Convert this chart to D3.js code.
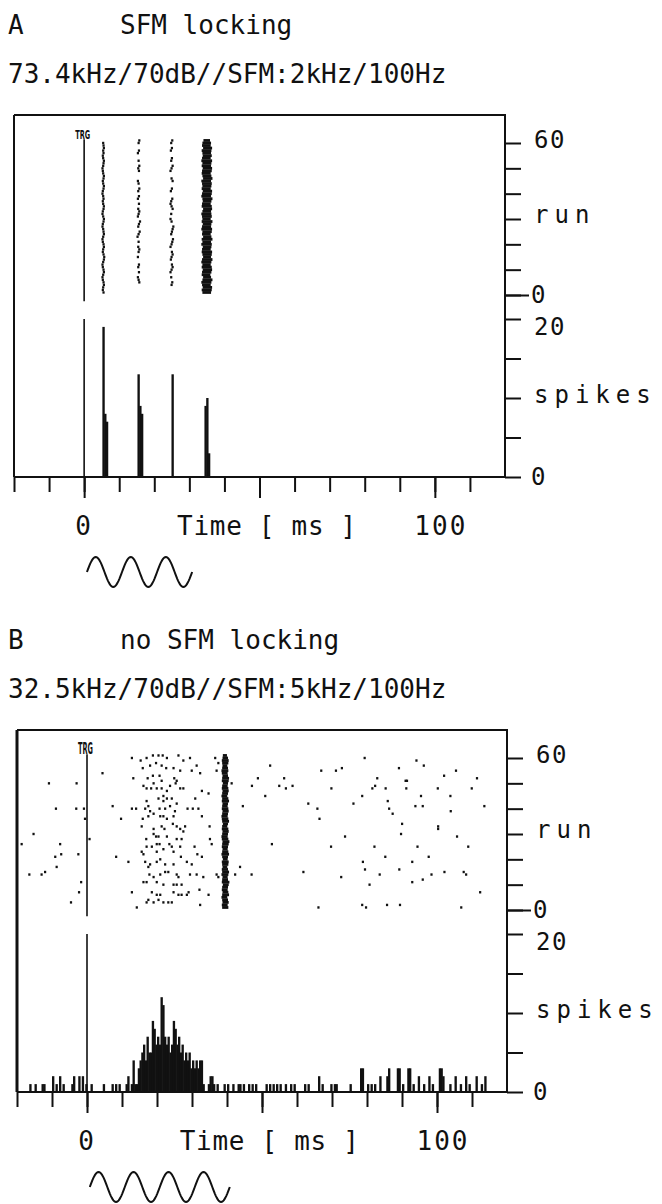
<!DOCTYPE html>
<html>
<head>
<meta charset="utf-8">
<script src="https://cdn.jsdelivr.net/npm/d3@7"></script>
<style>
  html, body { margin: 0; padding: 0; background: #fff; }
  svg { display: block; }
  text { font-family: "DejaVu Sans Mono", monospace; fill: #111; }
</style>
</head>
<body>
<div id="chart"></div>
<script>
// ---------- data ----------
const panelLetters = ["A", "B"];
const panelTitles = ["SFM locking", "no SFM locking"];
const panelStimuli = ["73.4kHz/70dB//SFM:2kHz/100Hz", "32.5kHz/70dB//SFM:5kHz/100Hz"];
const sfmCycles = [3, 4];
const sfmPeriod = 10; // ms, 100 Hz modulation

const timeTicks = [-20, -10, 0, 10, 20, 30, 40, 50, 60, 70, 80, 90, 100, 110];
const timeMajorTicks = [0, 50, 100];
const runTicks = [0, 10, 20, 30, 40, 50, 60];
const spikeTicks = [0, 5, 10, 15, 20];
const runLabels = [[60, "60"], [30, "run"], [0, "0"]];
const spikeLabels = [[20, "20"], [10, "spikes"], [0, "0"]];
const timeLabels = [[0, "0"], [100, "100"]];
const trgCount = 20;
const binWidth = 0.5;

// Panel A raster, spike time (ms) per run; index 0 = run 1, null = no spike
const rasterA1 = [5.5, 5.3, 5.4, 5.6, 5.5, 5.3, 5.2, 5.4, 5.6, 5.5,
  5.3, 5.2, 5.4, 5.6, 5.7, 5.5, 5.3, 5.4, 5.6, 5.5,
  5.3, 5.2, 5.4, 5.6, 5.5, 5.4, 5.2, 5.3, 5.5, 5.6,
  5.4, 5.2, 5.3, 5.5, 5.6, 5.4, 5.3, 5.5, 5.4, 5.2,
  5.3, 5.5, 5.6, 5.4, 5.3, 5.5, 5.6, 5.4, 5.3, 5.2,
  5.4, 5.5, 5.6, 5.4, 5.3, 5.5, 5.4, 5.6, 5.5, 5.4];
const rasterA2 = [null, null, null, null, 15.7, 15.5, 15.3, null, 15.6, null,
  15.4, 15.6, null, null, 15.3, null, 15.5, 15.7, 15.4, null,
  15.5, null, 15.2, 15.5, 15.8, null, 15.4, 15.6, 15.9, null,
  15.3, 15.5, 15.7, 15.4, null, 15.6, null, 15.3, 15.6, null,
  15.4, 15.7, null, 15.5, 15.3, null, null, null, 15.6, 15.4,
  15.7, null, 15.5, null, null, 15.3, 15.6, null, null, 15.5, 15.7];
const rasterA3 = [null, null, null, 24.9, 25.1, null, 24.8, null, 24.6, 24.9,
  25.2, 25.0, null, 24.7, 24.9, 25.2, 25.0, null, 24.6, 24.9,
  25.1, 25.3, null, 24.8, 25.0, 25.2, 25.4, null, 24.9, 24.6,
  null, 24.8, null, 25.2, 24.9, 24.6, 24.8, 25.1, null, null,
  24.7, 25.0, null, null, 25.2, 24.9, null, null, 24.6, 24.9,
  25.2, null, 24.8, 25.0, null, null, 24.7, 25.0, null, 24.8, 25.1];
// dense burst column: first and last spike time per run
const burstStartA = [34.0, 33.8, 34.1, 33.9, 33.7, 34.0, 34.2, 33.8, 33.9, 34.1,
  33.8, 34.0, 33.7, 33.9, 34.2, 34.0, 33.8, 33.9, 34.1, 33.7,
  34.0, 33.8, 34.2, 33.9, 34.0, 33.7, 33.9, 34.1, 33.8, 34.0,
  33.9, 33.7, 34.0, 34.2, 33.8, 33.9, 34.1, 34.0, 33.7, 33.9,
  34.1, 33.8, 34.0, 33.9, 33.7, 34.2, 34.0, 33.8, 33.9, 34.1,
  33.8, 34.0, 33.7, 33.9, 34.1, 34.0, 33.8, 34.2, 33.9, 34.0, 34.3];
const burstEndA = [35.9, 36.1, 36.2, 35.8, 36.0, 36.3, 35.9, 35.7, 36.0, 36.2,
  36.1, 35.8, 36.0, 36.3, 35.9, 36.1, 36.2, 35.8, 36.0, 36.1,
  35.9, 36.3, 36.0, 35.8, 36.1, 36.2, 35.9, 36.0, 36.3, 35.8,
  36.1, 36.0, 35.9, 36.2, 36.1, 35.8, 36.0, 36.3, 35.9, 36.1,
  36.2, 35.8, 36.0, 36.1, 35.9, 36.3, 36.0, 35.8, 36.1, 36.2,
  35.9, 36.0, 36.2, 35.8, 36.1, 35.9, 36.0, 36.2, 35.8, 35.9, 35.6];

// Panel A PSTH: [bin start ms, spike count]
const histA = [[5.2, 19], [5.7, 8], [6.2, 7], [15.2, 13], [15.7, 9], [16.2, 8],
  [24.9, 13], [34.3, 9], [34.8, 10], [35.3, 3]];

// Panel B raster: [time ms, run]
const rasterB = [
  [-10.9, 50], [-3.0, 50], [-8.9, 40], [-3.1, 40], [-0.9, 40], [-0.6, 36], [-15.3, 30],
  [-18.7, 26], [-7.7, 26], [-9.1, 21], [-7.4, 22], [-2.5, 22], [-8.7, 17], [-16.5, 14],
  [-13.0, 14], [-12.0, 15], [-1.7, 11], [-2.3, 7], [-4.6, 3], [0.7, 28],
  [4.4, 54], [7.3, 41], [9.7, 36], [8.3, 21], [11.8, 19], [12.8, 7], [14.2, 1],
  [12.8, 60], [15.3, 59], [17.0, 60], [18.8, 61], [20.4, 61], [21.6, 61], [22.8, 60],
  [26.1, 61], [27.5, 59], [29.4, 60], [36.6, 60], [37.5, 58],
  [15.9, 56], [18.0, 57], [19.7, 58], [21.3, 57], [22.6, 56], [24.7, 56], [26.6, 55],
  [29.9, 55], [31.3, 57], [37.0, 55],
  [13.2, 52], [17.3, 52], [18.8, 53], [20.7, 53], [21.3, 51], [24.9, 52], [25.6, 51],
  [19.0, 50], [32.3, 54], [25.3, 50],
  [16.1, 49], [17.0, 48], [18.3, 48], [19.9, 48], [21.3, 48], [22.8, 47], [23.7, 49],
  [26.6, 48], [27.5, 48], [32.8, 47], [34.7, 46],
  [17.0, 43], [20.4, 44], [21.8, 45], [22.8, 44], [24.2, 44], [25.6, 42], [21.8, 43], [30.9, 44],
  [12.8, 40], [14.0, 40], [16.6, 40], [17.5, 41], [18.0, 39], [20.7, 40], [22.3, 40],
  [23.7, 41], [25.1, 39], [28.7, 40], [30.2, 40], [31.8, 40],
  [15.9, 36], [17.5, 37], [19.0, 38], [20.9, 37], [21.8, 37], [22.8, 36], [24.7, 37], [32.8, 37],
  [15.6, 33], [21.3, 33], [22.1, 32], [24.5, 34], [25.6, 33], [26.6, 32], [28.0, 33],
  [19.0, 32], [27.5, 31], [35.0, 33],
  [16.9, 28], [19.0, 30], [19.7, 29], [20.4, 29], [22.8, 29], [25.6, 28], [27.0, 28],
  [19.9, 26], [35.1, 28], [35.6, 26],
  [17.0, 25], [18.5, 25], [20.7, 26], [23.5, 26], [24.2, 25], [26.6, 25], [30.7, 25],
  [15.6, 23], [16.1, 22], [19.9, 23], [21.8, 24], [24.7, 23], [26.8, 21], [31.5, 22], [32.8, 21],
  [16.6, 19], [18.0, 18], [19.9, 19], [20.9, 20], [22.3, 18], [24.7, 18], [28.5, 19],
  [29.9, 18], [17.5, 17],
  [17.8, 14], [19.0, 13], [20.9, 14], [22.3, 15], [23.2, 15], [25.6, 14], [26.1, 13],
  [29.4, 14], [31.3, 14], [33.2, 13], [37.0, 14], [37.5, 13], [16.1, 11],
  [17.0, 11], [19.9, 11], [21.8, 10], [24.7, 10], [25.6, 10], [27.0, 10], [29.0, 7], [32.1, 8],
  [18.5, 7], [19.9, 6], [20.9, 6], [24.7, 7], [26.1, 6], [27.0, 6], [28.5, 6], [34.7, 6],
  [17.5, 4], [19.0, 3], [20.4, 4], [21.8, 3], [23.2, 3], [24.2, 3], [32.3, 2], [17.0, 3],
  [41.3, 50], [42.3, 14],
  [44.5, 41], [47.1, 49], [48.8, 52], [50.9, 45], [52.3, 57], [54.9, 49], [56.3, 52],
  [56.8, 48], [58.7, 49], [52.8, 26], [43.7, 17], [47.0, 14], [61.8, 15], [66.9, 55],
  [63.2, 42], [65.8, 40], [66.4, 36], [66.1, 1], [69.8, 48], [71.1, 55], [72.8, 56],
  [69.7, 25], [73.7, 29], [72.6, 13], [76.1, 42], [78.6, 45], [79.3, 60], [78.8, 19],
  [79.4, 16], [80.7, 10], [78.6, 2], [79.7, 1], [81.5, 48], [82.3, 49], [82.9, 52],
  [82.1, 25], [85.3, 48], [85.9, 43], [86.3, 40], [87.3, 38], [85.2, 21], [83.6, 14],
  [85.7, 2], [89.1, 56], [91.0, 51], [91.4, 51], [91.2, 48], [90.0, 34], [89.7, 30],
  [89.2, 16], [89.4, 2], [92.9, 19], [92.9, 11], [93.8, 41], [94.1, 59], [95.4, 45],
  [95.9, 41], [96.2, 57], [94.4, 25], [95.9, 12], [97.6, 21], [98.4, 14], [100.2, 48],
  [100.3, 33], [100.3, 32], [102.0, 53], [102.1, 15], [103.8, 45], [103.9, 39],
  [105.4, 55], [105.7, 29], [108.9, 25], [107.6, 15], [108.3, 14], [106.9, 1],
  [109.9, 48], [111.4, 52], [112.3, 7], [113.5, 41]
];
const burstStartB = [38.9, 38.8, 39.0, 38.9, 38.7, 38.9, 39.0, 38.8, 38.9, 39.1,
  38.8, 38.9, 39.0, 38.7, 38.9, 38.8, 39.0, 38.9, 38.8, 39.1,
  38.9, 38.7, 38.9, 39.0, 38.8, 38.9, 39.0, 38.8, 38.7, 38.9,
  39.0, 38.8, 38.9, 39.1, 38.9, 38.8, 38.7, 38.9, 39.0, 38.8,
  38.9, 39.0, 38.8, 38.9, 38.7, 38.9, 39.0, 38.8, 38.9, 39.1,
  38.8, 38.9, 39.0, 38.8, 38.7, 38.9, 39.0, 38.9, 38.8, 39.0, 39.1];
const burstEndB = [40.1, 39.9, 40.2, 40.0, 39.8, 40.3, 40.1, 39.9, 40.0, 40.2,
  40.4, 40.0, 39.9, 40.1, 40.3, 40.0, 39.8, 40.1, 40.2, 39.9,
  40.0, 40.3, 40.1, 39.9, 40.0, 40.2, 40.4, 40.1, 39.9, 40.0,
  40.2, 40.1, 39.8, 40.0, 40.3, 40.1, 39.9, 40.0, 40.2, 40.1,
  39.9, 40.0, 40.3, 40.1, 39.8, 40.0, 40.2, 40.1, 39.9, 40.0,
  40.2, 40.3, 40.0, 39.9, 40.1, 40.0, 39.8, 40.1, 40.2, 40.0, 39.7];

// Panel B PSTH: [bin start ms, spike count]
const histB = [
  [-16.5, 1], [-15.0, 1], [-13.0, 1], [-12.5, 1], [-10.0, 2], [-9.0, 1], [-8.0, 2], [-7.0, 1],
  [-4.5, 1], [-4.0, 2], [-2.5, 2], [-1.5, 2], [-0.5, 1],
  [1.0, 1], [4.5, 1], [7.0, 1], [8.0, 1], [9.0, 1], [11.0, 1], [11.5, 2], [12.5, 1],
  [13.0, 4], [13.5, 1], [14.0, 1], [14.5, 3], [15.0, 4], [15.5, 5], [16.0, 6], [16.5, 4],
  [17.0, 7], [17.5, 5], [18.0, 5], [18.5, 9], [19.0, 8], [19.5, 6], [20.0, 7], [20.5, 6],
  [21.0, 12], [21.5, 11], [22.0, 7], [22.5, 6], [23.0, 7], [23.5, 5], [24.0, 6], [24.5, 9],
  [25.0, 8], [25.5, 6], [26.0, 7], [26.5, 5], [27.0, 6], [27.5, 4], [28.0, 5], [28.5, 4],
  [29.0, 5], [29.5, 3], [30.0, 4], [30.5, 3], [31.0, 4], [31.5, 3], [32.0, 4], [32.5, 4], [33.0, 1],
  [34.5, 1], [35.0, 2], [35.5, 2], [36.0, 1], [37.0, 1], [39.0, 1], [40.0, 1], [41.5, 1],
  [43.0, 1], [43.5, 1], [44.5, 1], [46.0, 1], [47.0, 1], [48.0, 1], [51.0, 1], [52.0, 1],
  [53.0, 1], [54.0, 1], [55.0, 1], [56.5, 1], [58.0, 1], [59.0, 1], [62.0, 1], [63.0, 1],
  [66.0, 2], [67.0, 1], [69.5, 1], [70.5, 1], [71.0, 1], [75.0, 1], [78.0, 3], [78.5, 3],
  [80.0, 1], [81.0, 1], [82.0, 1], [83.5, 2], [85.5, 2], [86.0, 3], [88.5, 3], [89.0, 3],
  [90.0, 1], [91.5, 3], [92.0, 3], [93.0, 1], [94.5, 2], [96.0, 1], [97.5, 2], [98.5, 1],
  [100.5, 3], [101.0, 3], [101.5, 2], [103.5, 1], [105.0, 2], [106.5, 1], [108.0, 2],
  [109.0, 1], [111.0, 2], [112.5, 1], [113.5, 2]
];

// ---------- layout ----------
const width = 662, height = 1204;
const panelLayout = [
  {top: 115, left: 14, right: 505, leftStroke: 2},
  {top: 730, left: 17, right: 507, leftStroke: 3}
];

const svg = d3.select("#chart").append("svg")
  .attr("width", width)
  .attr("height", height);

function toRuns(times) {
  const out = [];
  times.forEach((t, i) => { if (t !== null) out.push([t, i + 1]); });
  return out;
}
function toBursts(starts, ends) {
  return starts.map((s, i) => [s, ends[i], i + 1]);
}

const panelData = [
  {spikes: [...toRuns(rasterA1), ...toRuns(rasterA2), ...toRuns(rasterA3)],
   bursts: toBursts(burstStartA, burstEndA), hist: histA},
  {spikes: rasterB, bursts: toBursts(burstStartB, burstEndB), hist: histB}
];

panelLayout.forEach((lay, p) => {
  const dat = panelData[p];
  const g = svg.append("g");

  const x = d3.scaleLinear().domain([-20, 120]).range([lay.left, lay.right]);
  const yRun = d3.scaleLinear().domain([0, 60]).range([lay.top + 180, lay.top + 28]);
  const yCount = d3.scaleLinear().domain([0, 20]).range([lay.top + 362, lay.top + 204]);
  const base = yCount(0);

  // headers
  g.append("text").attr("x", 8).attr("y", lay.top - 81)
    .style("font-size", "26px").text(panelLetters[p]);
  g.append("text").attr("x", 120).attr("y", lay.top - 81)
    .style("font-size", "26px").text(panelTitles[p]);
  g.append("text").attr("x", 8).attr("y", lay.top - 32)
    .style("font-size", "26px").text(panelStimuli[p]);

  // frame: top, right, baseline, then left edge
  const frame = g.append("g").attr("stroke", "#111").attr("stroke-width", 2).attr("fill", "none");
  frame.append("path")
    .attr("d", `M${lay.left},${lay.top}H${lay.right}V${base}H${lay.left}`);
  frame.append("line")
    .attr("x1", lay.left).attr("x2", lay.left)
    .attr("y1", lay.top).attr("y2", base)
    .attr("stroke-width", lay.leftStroke);

  // bottom time axis
  g.append("g")
    .attr("transform", `translate(0,${base})`)
    .call(d3.axisBottom(x).tickValues(timeTicks).tickSize(15).tickFormat("").tickSizeOuter(0))
    .call(a => a.select(".domain").remove())
    .call(a => a.selectAll("line").attr("stroke", "#111").attr("stroke-width", 2));
  g.append("g")
    .attr("transform", `translate(0,${base})`)
    .call(d3.axisBottom(x).tickValues(timeMajorTicks).tickSize(21).tickFormat("").tickSizeOuter(0))
    .call(a => a.select(".domain").remove())
    .call(a => a.selectAll("line").attr("stroke", "#111").attr("stroke-width", 2));

  timeLabels.forEach(([v, txt]) => {
    g.append("text")
      .attr("x", x(v) + (v === 100 ? 6 : 0))
      .attr("y", base + 58)
      .attr("text-anchor", "middle")
      .style("font-size", "26px").style("letter-spacing", "2px")
      .text(txt);
  });
  g.append("text")
    .attr("x", x(26.5)).attr("y", base + 58)
    .style("font-size", "26px").style("letter-spacing", "0.7px")
    .text("Time [ ms ]");

  // right axes
  g.append("g")
    .attr("transform", `translate(${lay.right},0)`)
    .call(d3.axisRight(yRun).tickValues(runTicks).tickSize(16).tickFormat("").tickSizeOuter(0))
    .call(a => a.select(".domain").remove())
    .call(a => a.selectAll("line").attr("stroke", "#111").attr("stroke-width", 2));
  g.append("g")
    .attr("transform", `translate(${lay.right},0)`)
    .call(d3.axisRight(yRun).tickValues([0]).tickSize(24).tickFormat("").tickSizeOuter(0))
    .call(a => a.select(".domain").remove())
    .call(a => a.selectAll("line").attr("stroke", "#111").attr("stroke-width", 2));
  g.append("g")
    .attr("transform", `translate(${lay.right},0)`)
    .call(d3.axisRight(yCount).tickValues(spikeTicks).tickSize(16).tickFormat("").tickSizeOuter(0))
    .call(a => a.select(".domain").remove())
    .call(a => a.selectAll("line").attr("stroke", "#111").attr("stroke-width", 2));

  const isWord = txt => /[a-z]/.test(txt);
  runLabels.forEach(([v, txt]) => {
    g.append("text")
      .attr("x", lay.right + (v === 0 ? 26 : 29))
      .attr("y", yRun(v) + (v === 60 ? 5 : v === 0 ? 8 : 4))
      .style("font-size", "24px").style("letter-spacing", isWord(txt) ? "6px" : "1.5px")
      .text(txt);
  });
  spikeLabels.forEach(([v, txt]) => {
    g.append("text")
      .attr("x", lay.right + (v === 0 ? 26 : 29))
      .attr("y", yCount(v) + (v === 20 ? 16 : v === 0 ? 8 : 5))
      .style("font-size", "24px").style("letter-spacing", isWord(txt) ? "6px" : "1.5px")
      .text(txt);
  });

  // trigger marker
  g.append("line")
    .attr("x1", x(0)).attr("x2", x(0))
    .attr("y1", yRun(-2.5)).attr("y2", yRun(61.5))
    .attr("stroke", "#111").attr("stroke-width", 1.6);
  g.append("line")
    .attr("x1", x(0)).attr("x2", x(0))
    .attr("y1", base).attr("y2", yCount(trgCount))
    .attr("stroke", "#111").attr("stroke-width", 1.6);
  g.append("text")
    .attr("x", x(0) - 1.5).attr("y", yRun(61.5))
    .attr("text-anchor", "middle")
    .attr("textLength", 15).attr("lengthAdjust", "spacingAndGlyphs")
    .style("font-family", "'DejaVu Sans Condensed', 'DejaVu Sans'")
    .style("font-weight", "bold").style("font-size", p === 0 ? "12px" : "15px")
    .text("TRG");

  // raster dots
  g.append("g").selectAll("rect")
    .data(dat.spikes)
    .join("rect")
    .attr("x", d => x(d[0]) - 1)
    .attr("y", d => yRun(d[1]) - 1.2)
    .attr("width", 2.2)
    .attr("height", 2.4)
    .attr("fill", "#111");

  // dense burst column
  g.append("g").selectAll("rect")
    .data(dat.bursts)
    .join("rect")
    .attr("x", d => x(d[0]) - 1)
    .attr("y", d => yRun(d[2]) - 1.4)
    .attr("width", d => x(d[1]) - x(d[0]) + 2)
    .attr("height", 2.8)
    .attr("fill", "#111");

  // PSTH
  g.append("g").selectAll("rect")
    .data(dat.hist)
    .join("rect")
    .attr("x", d => x(d[0]))
    .attr("y", d => yCount(d[1]))
    .attr("width", d => x(d[0] + binWidth) - x(d[0]) + 0.6)
    .attr("height", d => base - yCount(d[1]))
    .attr("fill", "#111");

  // SFM stimulus sketch under the axis
  const sinePts = d3.range(0, sfmCycles[p] * sfmPeriod + 0.01, 0.25);
  const cy = base + 95;
  const sine = d3.line()
    .x(t => x(t + 0.8))
    .y(t => cy - 15 * Math.sin(2 * Math.PI * t / sfmPeriod));
  g.append("path")
    .datum(sinePts)
    .attr("d", sine)
    .attr("fill", "none")
    .attr("stroke", "#111")
    .attr("stroke-width", 2);
});
</script>
</body>
</html>
